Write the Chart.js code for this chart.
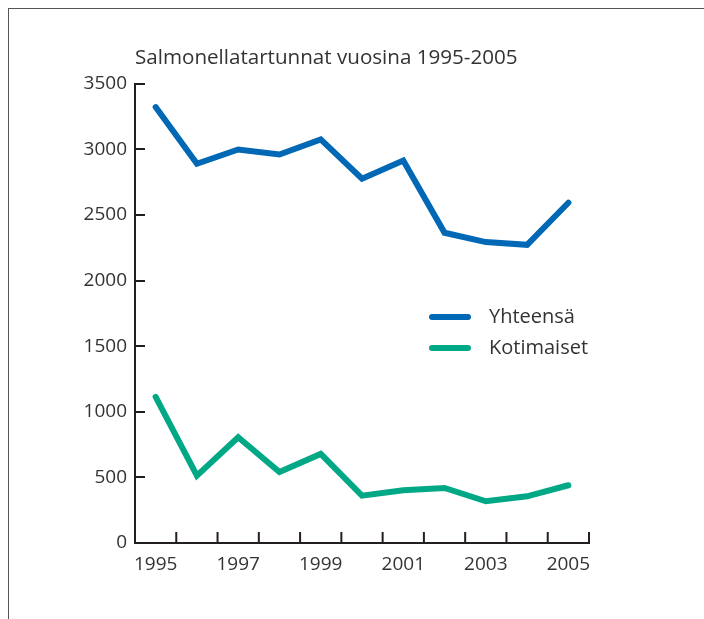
<!DOCTYPE html>
<html>
<head>
<meta charset="utf-8">
<script src="https://cdn.jsdelivr.net/npm/chart.js@4"></script>
<style>
  html, body { margin: 0; padding: 0; background: #fff; }
  #wrap { position: relative; width: 704px; height: 619px; }
  #frame { position: absolute; left: 8px; top: 8px; right: 0; bottom: 0; border-left: 1px solid #555; border-top: 1px solid #555; }
  canvas { position: absolute; left: 0; top: 0; }
</style>
</head>
<body>
<div id="wrap">
  <div id="frame"></div>
  <canvas id="c" width="704" height="619"></canvas>
</div>
<script>
const years = ['1995','1996','1997','1998','1999','2000','2001','2002','2003','2004','2005'];
const yhteensa = [3322, 2890, 2999, 2961, 3076, 2776, 2915, 2364, 2293, 2272, 2593];
const kotimaiset = [1113, 513, 806, 541, 679, 361, 402, 419, 318, 356, 440];
const yTicks = [0, 500, 1000, 1500, 2000, 2500, 3000, 3500];
const titleText = 'Salmonellatartunnat vuosina 1995-2005';
const seriesLabels = ['Yhteensä', 'Kotimaiset'];

const FONT = '"Open Sans"';
const WEIGHT = '400';
const TEXT = '#333333';
const AXIS = '#231f20';

const innerTicks = {
  id: 'innerTicks',
  afterDatasetsDraw(chart) {
    const ctx = chart.ctx;
    const x = chart.scales.x, y = chart.scales.y;
    ctx.save();
    ctx.strokeStyle = AXIS;
    ctx.lineWidth = 2;
    ctx.beginPath();
    yTicks.forEach(v => {
      if (v === 0) return;
      const py = Math.round(y.getPixelForValue(v));
      ctx.moveTo(x.left, py);
      ctx.lineTo(x.left + 10, py);
    });
    const half = (x.getPixelForValue(1) - x.getPixelForValue(0)) / 2;
    for (let i = 0; i < years.length; i++) {
      const px = x.getPixelForValue(i) + half;
      ctx.moveTo(px, y.bottom);
      ctx.lineTo(px, y.bottom - 11);
    }
    ctx.stroke();
    ctx.restore();
  }
};

const customLegend = {
  id: 'customLegend',
  afterDraw(chart) {
    const ctx = chart.ctx;
    ctx.save();
    const rows = [317, 348];
    chart.data.datasets.forEach((ds, i) => {
      const yy = rows[i];
      ctx.strokeStyle = ds.borderColor;
      ctx.lineWidth = 6;
      ctx.lineCap = 'round';
      ctx.beginPath();
      ctx.moveTo(432, yy);
      ctx.lineTo(468, yy);
      ctx.stroke();
      ctx.fillStyle = TEXT;
      ctx.font = WEIGHT + ' 20px ' + FONT;
      ctx.textBaseline = 'middle';
      ctx.textAlign = 'left';
      ctx.fillText(ds.label, 489, yy);
    });
    ctx.restore();
  }
};

new Chart(document.getElementById('c'), {
  type: 'line',
  data: {
    labels: years,
    datasets: [
      { label: seriesLabels[0], data: yhteensa, borderColor: '#0068b4', borderWidth: 6, pointRadius: 0, tension: 0, borderCapStyle: 'round', borderJoinStyle: 'miter' },
      { label: seriesLabels[1], data: kotimaiset, borderColor: '#00a886', borderWidth: 6, pointRadius: 0, tension: 0, borderCapStyle: 'round', borderJoinStyle: 'miter' }
    ]
  },
  options: {
    responsive: false,
    animation: false,
    events: [],
    layout: { padding: { left: 0, right: 115, top: 0, bottom: 0 } },
    plugins: {
      legend: { display: false },
      tooltip: { enabled: false },
      title: {
        display: true,
        text: titleText,
        align: 'start',
        fullSize: false,
        color: TEXT,
        font: { family: FONT, size: 20.6, weight: WEIGHT, lineHeight: 1.2 },
        padding: { top: 46, bottom: 13 }
      }
    },
    scales: {
      x: {
        type: 'category',
        offset: true,
        grid: { display: false, drawTicks: false, offset: true },
        border: { display: true, color: AXIS, width: 2 },
        ticks: {
          color: TEXT,
          font: { family: FONT, size: 19, weight: WEIGHT },
          padding: 10,
          maxRotation: 0,
          autoSkip: false,
          callback: (v, i) => (i % 2 === 0 ? years[i] : '')
        },
        afterFit(s) { s.height = 76; }
      },
      y: {
        min: 0,
        max: 3500,
        grid: { display: false, drawTicks: false },
        border: { display: true, color: AXIS, width: 2 },
        afterBuildTicks(s) { s.ticks = yTicks.map(v => ({ value: v })); },
        ticks: {
          color: TEXT,
          font: { family: FONT, size: 19, weight: WEIGHT },
          padding: 8,
          callback: v => String(v)
        },
        afterFit(s) { s.width = 135; }
      }
    }
  },
  plugins: [innerTicks, customLegend]
});
</script>
</body>
</html>
